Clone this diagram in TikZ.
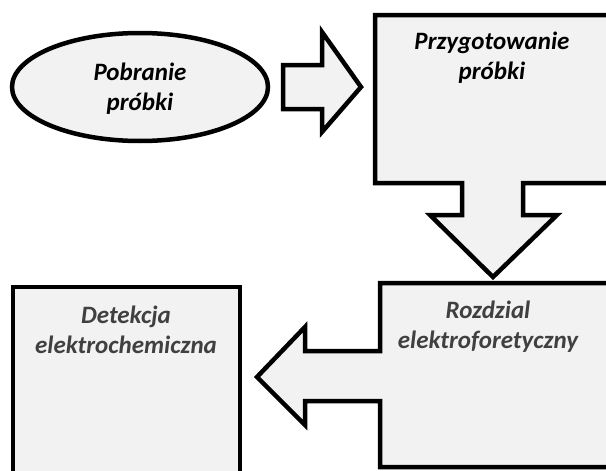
\documentclass[tikz,border=0pt]{standalone}
\usepackage{fontspec}
\setmainfont{Carlito}
\usetikzlibrary{shapes.geometric}
\definecolor{boxfill}{HTML}{F2F2F2}
\definecolor{darktext}{HTML}{404040}
\tikzset{
  outline/.style={draw=black, line width=4.5pt, fill=boxfill, line join=miter},
  lbl/.style={font=\fontsize{25}{30}\selectfont\bfseries\itshape, align=center, inner sep=0pt, text=black},
  greylbl/.style={lbl, text=darktext}
}
\begin{document}
\begin{tikzpicture}[x=1pt, y=-1pt]
\useasboundingbox (0,0) rectangle (606,471);
\fill[white] (0,0) rectangle (606,471);
\clip (0,0) rectangle (606,471);
% ellipse
\node[outline, ellipse, minimum width=256pt, minimum height=108pt, inner sep=0pt] (pob) at (140,87) {};
\node[lbl] (pobt) at (140,89) {Pobranie\\próbki};
% right block arrow
\draw[outline] (283,65) -- (322,65) -- (322,32) -- (361,87) -- (322,132) -- (322,109) -- (283,109) -- cycle;
% box with down arrow
\draw[outline] (375,15) -- (625,15) -- (625,183) -- (523,183) -- (523,215) -- (557,215) -- (493,277) -- (430,215) -- (462,215) -- (462,183) -- (375,183) -- cycle;
\node[lbl] (przt) at (492,58) {Przygotowanie\\próbki};
% box with left arrow
\draw[outline] (380,283) -- (625,283) -- (625,467) -- (380,467) -- (380,401) -- (305,401) -- (305,425) -- (257,377) -- (305,327) -- (305,351) -- (380,351) -- cycle;
\node[greylbl] (rozt) at (488,327) {Rozdzial\\elektroforetyczny};
% detection box
\draw[outline] (13,287) rectangle (240,495);
\node[greylbl] (dett) at (126,330) {Detekcja\\elektrochemiczna};
\end{tikzpicture}
\end{document}
